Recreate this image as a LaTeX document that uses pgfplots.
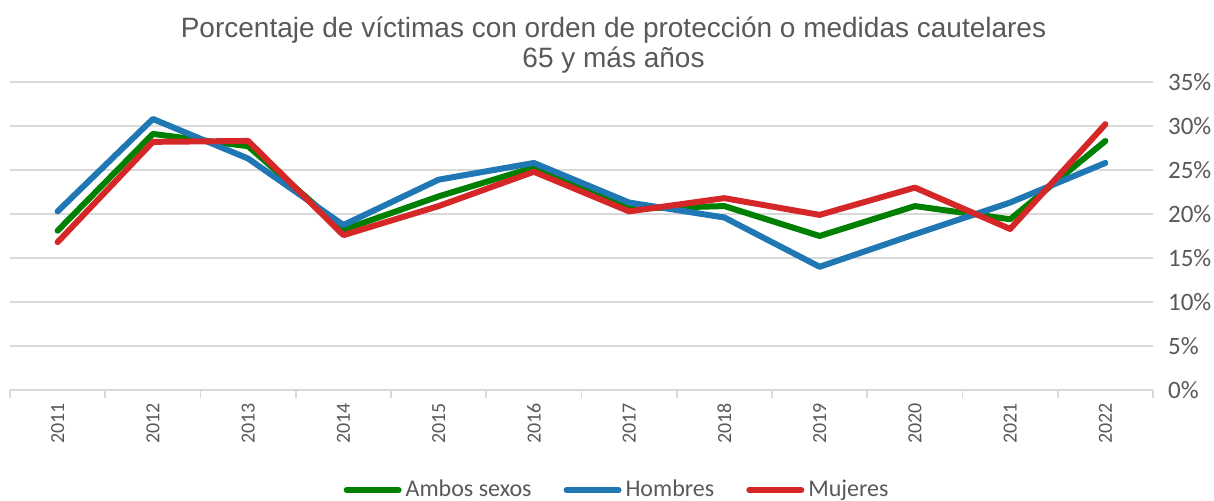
\documentclass[border=0pt]{standalone}
\usepackage{fontspec}
\setmainfont{Carlito}
\newfontfamily\titlefont{Liberation Sans}
\usepackage{pgfplots}
\pgfplotsset{compat=1.18}
\usetikzlibrary{calc}
\definecolor{txtGrey}{HTML}{595959}
\definecolor{gridGrey}{HTML}{D9D9D9}
\definecolor{serGreen}{HTML}{008000}
\definecolor{serBlue}{HTML}{1F77B4}
\definecolor{serRed}{HTML}{D62728}

\begin{document}
\begin{tikzpicture}
\begin{axis}[
  name=ax,
  scale only axis,
  width=571.5pt, height=154pt,
  xmin=-0.5, xmax=11.5,
  ymin=0, ymax=35,
  xtick={0,...,11},
  xticklabels={2011,2012,2013,2014,2015,2016,2017,2018,2019,2020,2021,2022},
  minor xtick={-0.5,0.5,...,11.5},
  ytick={0,5,...,35},
  yticklabel={\pgfmathprintnumber{\tick}\%},
  /pgf/number format/assume math mode=true,
  axis x line*=bottom,
  axis y line*=right,
  y axis line style={draw=none},
  x axis line style={gridGrey, line width=0.8pt},
  major tick length=0pt,
  minor tick length=4pt,
  tick align=outside,
  minor x tick style={gridGrey, line width=0.8pt},
  ytick style={draw=none},
  ymajorgrids,
  grid style={gridGrey, line width=0.8pt},
  xticklabel style={rotate=90, anchor=east, font=\fontsize{10}{12}\selectfont, color=txtGrey, yshift=0pt, xshift=-3pt},
  yticklabel style={font=\fontsize{12.5}{14}\selectfont, color=txtGrey, xshift=4pt},
  legend style={at={(0.532,-0.325)}, anchor=center, draw=none, fill=none,
    legend columns=3, font=\fontsize{12}{14}\selectfont, text=txtGrey,
    /tikz/every even column/.append style={column sep=14pt}},
  legend image code/.code={\draw[#1, line cap=round, line width=3pt] (0pt,0pt) -- (26pt,0pt);},
  legend cell align=left,
  every axis plot/.append style={line width=3pt, line join=round, line cap=round},
]
\addplot[serGreen] coordinates {(0,18.1) (1,29.1) (2,27.7) (3,18.2) (4,22.0) (5,25.3) (6,20.6) (7,20.9) (8,17.5) (9,20.9) (10,19.4) (11,28.3)};
\addlegendentry{Ambos sexos}
\addplot[serBlue] coordinates {(0,20.3) (1,30.8) (2,26.3) (3,18.75) (4,23.9) (5,25.8) (6,21.3) (7,19.6) (8,14.0) (9,17.7) (10,21.3) (11,25.8)};
\addlegendentry{Hombres}
\addplot[serRed] coordinates {(0,16.8) (1,28.2) (2,28.3) (3,17.6) (4,20.9) (5,24.8) (6,20.3) (7,21.8) (8,19.9) (9,23.0) (10,18.3) (11,30.2)};
\addlegendentry{Mujeres}
\end{axis}
\node[align=center, font=\titlefont\fontsize{14}{15}\selectfont, text=txtGrey] at ($(ax.north)+(16pt,18.5pt)$) {Porcentaje de víctimas con orden de protección o medidas cautelares\\65 y más años};
\pgfresetboundingbox
\path ($(ax.south west)+(-5pt,-55.5pt)$) rectangle ($(ax.north east)+(30.5pt,41pt)$);
\end{tikzpicture}
\end{document}
